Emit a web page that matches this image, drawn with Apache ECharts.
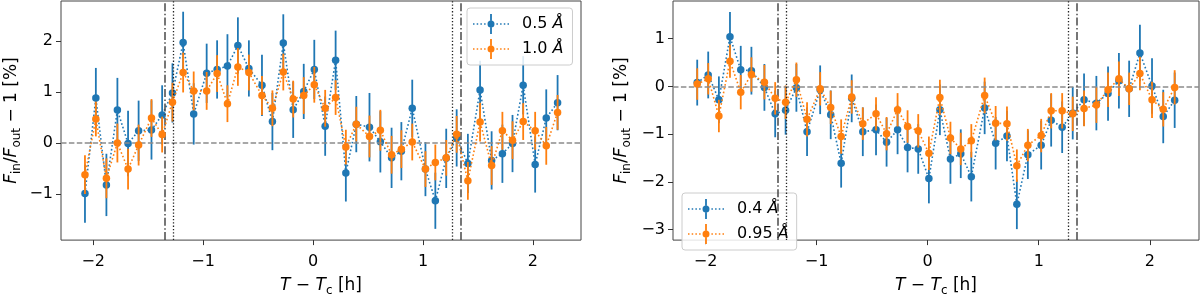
<!DOCTYPE html>
<html>
<head>
<meta charset="utf-8">
<script src="https://cdn.jsdelivr.net/npm/echarts@6.0.0/dist/echarts.min.js"></script>
<style>
html, body { margin: 0; padding: 0; background: #fff; }
#chart { width: 1200px; height: 302px; }
</style>
</head>
<body>
<div id="chart"></div>
<script>
// ---- Data ----
const times = [-2.075, -1.976, -1.880, -1.780, -1.683, -1.587, -1.470, -1.373, -1.279, -1.182, -1.086,
  -0.968, -0.873, -0.779, -0.684, -0.584, -0.465, -0.370, -0.271, -0.181, -0.085, 0.011, 0.110,
  0.205, 0.298, 0.393, 0.513, 0.612, 0.714, 0.803, 0.902, 1.022, 1.112, 1.211, 1.306, 1.408,
  1.519, 1.624, 1.722, 1.814, 1.911, 2.020, 2.121, 2.224];

// Left panel: 0.5 Å (blue) and 1.0 Å (orange)
const leftBlueVals = [-0.99, 0.88, -0.82, 0.645, -0.01, 0.24, 0.256, 0.55, 0.98, 1.97, 0.57,
  1.365, 1.44, 1.51, 1.91, 1.46, 1.13, 0.42, 1.96, 0.65, 1.01, 1.44, 0.33,
  1.62, -0.585, 0.37, 0.31, 0.024, -0.29, -0.16, 0.68, -0.51, -1.13, -0.30, 0.10, -0.40,
  1.04, -0.34, -0.21, -0.01, 1.13, -0.42, 0.49, 0.79];
const leftBlueErrs = [0.57, 0.59, 0.61, 0.63, 0.64, 0.59, 0.58, 0.58, 0.58, 0.60, 0.60,
  0.58, 0.57, 0.62, 0.55, 0.55, 0.60, 0.56, 0.56, 0.55, 0.54, 0.58, 0.58,
  0.58, 0.56, 0.55, 0.67, 0.60, 0.59, 0.57, 0.56, 0.53, 0.55, 0.58, 0.56, 0.58,
  0.57, 0.57, 0.57, 0.56, 0.57, 0.55, 0.56, 0.54];
const leftOrangeVals = [-0.62, 0.47, -0.69, 0.0, -0.51, -0.04, 0.49, 0.165, 0.80, 1.38, 1.02,
  1.02, 1.36, 0.77, 1.49, 1.38, 0.93, 0.68, 1.39, 0.86, 0.93, 1.14, 0.68,
  0.89, -0.08, 0.37, 0.128, 0.25, -0.23, -0.12, 0.02, -0.51, -0.38, -0.29, 0.17, -0.74,
  0.41, -0.44, 0.24, 0.055, 0.42, 0.24, -0.055, 0.60];
const leftOrangeErrs = [0.38, 0.34, 0.39, 0.38, 0.40, 0.40, 0.37, 0.35, 0.38, 0.39, 0.38,
  0.37, 0.36, 0.36, 0.37, 0.35, 0.38, 0.35, 0.36, 0.36, 0.36, 0.35, 0.36,
  0.34, 0.34, 0.34, 0.41, 0.40, 0.37, 0.37, 0.36, 0.35, 0.35, 0.35, 0.36, 0.37,
  0.38, 0.38, 0.37, 0.37, 0.36, 0.37, 0.37, 0.34];

// Right panel: 0.4 Å (blue) and 0.95 Å (orange)
const rightBlueVals = [0.08, 0.24, -0.28, 1.04, 0.35, 0.33, -0.02, -0.575, -0.50, -0.03, -0.95,
  -0.07, -0.595, -1.61, -0.25, -0.95, -0.91, -1.17, -0.91, -1.28, -1.31, -1.93, -0.49,
  -1.52, -1.41, -1.89, -0.45, -1.19, -1.04, -2.47, -1.43, -1.23, -0.71, -0.855, -0.56, -0.28,
  -0.35, -0.15, 0.12, -0.05, 0.70, 0.01, -0.63, -0.29];
const rightBlueErrs = [0.48, 0.49, 0.49, 0.52, 0.50, 0.50, 0.49, 0.49, 0.51, 0.50, 0.51,
  0.51, 0.51, 0.51, 0.50, 0.51, 0.53, 0.51, 0.51, 0.52, 0.52, 0.52, 0.53,
  0.52, 0.51, 0.52, 0.55, 0.55, 0.53, 0.52, 0.51, 0.51, 0.55, 0.54, 0.55, 0.55,
  0.57, 0.57, 0.58, 0.59, 0.59, 0.58, 0.56, 0.58];
const rightOrangeVals = [0.05, 0.16, -0.62, 0.53, -0.12, 0.25, 0.09, -0.25, -0.33, 0.14, -0.69,
  -0.05, -0.44, -1.05, -0.22, -0.78, -0.575, -0.99, -0.49, -0.84, -0.93, -1.40, -0.23,
  -1.08, -1.31, -1.14, -0.19, -0.77, -0.78, -1.66, -1.23, -1.03, -0.51, -0.51, -0.575, -0.46,
  -0.39, -0.07, 0.16, -0.05, 0.27, -0.28, -0.48, -0.02];
const rightOrangeErrs = [0.33, 0.33, 0.34, 0.35, 0.36, 0.36, 0.36, 0.34, 0.35, 0.36, 0.36,
  0.35, 0.35, 0.36, 0.35, 0.34, 0.35, 0.35, 0.35, 0.34, 0.35, 0.35, 0.37,
  0.34, 0.34, 0.35, 0.375, 0.36, 0.36, 0.34, 0.34, 0.35, 0.37, 0.37, 0.36, 0.375,
  0.375, 0.36, 0.36, 0.34, 0.35, 0.38, 0.36, 0.36];

// Legend labels
const leftNames = ['0.5 Å', '1.0 Å'];
const rightNames = ['0.4 Å', '0.95 Å'];

// Reference lines (hours)
const dashDotLines = [-1.347, 1.345];
const dottedLines = [-1.272, 1.271];

// Tick values
const xTicks = [-2, -1, 0, 1, 2];
const leftYTicks = [-1, 0, 1, 2];
const rightYTicks = [-3, -2, -1, 0, 1];

// ---- Styling ----
const BLUE = '#1f77b4';
const ORANGE = '#ff7f0e';
const FONT = 'DejaVu Sans';

const fmt = v => (v < 0 ? '\u2212' + Math.abs(v) : String(v));

function errSeries(axis, vals, errs, color, z) {
  return {
    type: 'custom', xAxisIndex: axis, yAxisIndex: axis, z: z, silent: true,
    data: times.map((t, i) => [t, vals[i], errs[i]]),
    encode: { x: 0, y: 1 },
    renderItem: function (params, api) {
      const x = api.value(0), y = api.value(1), e = api.value(2);
      const p1 = api.coord([x, y - e]);
      const p2 = api.coord([x, y + e]);
      return { type: 'line', shape: { x1: p1[0], y1: p1[1], x2: p2[0], y2: p2[1] },
        style: { stroke: color, lineWidth: 1.8 } };
    }
  };
}
function lineSeries(axis, name, vals, color, z) {
  return {
    type: 'line', name: name, xAxisIndex: axis, yAxisIndex: axis, z: z, silent: true,
    data: times.map((t, i) => [t, vals[i]]),
    symbol: 'circle', symbolSize: 7.5, showSymbol: true,
    itemStyle: { color: color, borderWidth: 0 },
    lineStyle: { color: color, width: 1.6, type: [1.6, 2.3] }
  };
}
function refSeries(axis) {
  const data = [
    { yAxis: 0, lineStyle: { color: '#8c8c8c', width: 1.5, type: [5.5, 2.4] } }
  ];
  dashDotLines.forEach(v => data.push({ xAxis: v, lineStyle: { color: '#4a4a4a', width: 1.5, type: [8, 2.4, 1.5, 2.4] } }));
  dottedLines.forEach(v => data.push({ xAxis: v, lineStyle: { color: '#222', width: 1.3, type: [1.3, 2] } }));
  return {
    type: 'line', xAxisIndex: axis, yAxisIndex: axis, z: 1, silent: true, data: [],
    markLine: { silent: true, symbol: 'none', label: { show: false }, animation: false, data: data }
  };
}

// legend icon: dotted line + error bar + circle (36 x 20 box)
const iconPath = 'path://' +
  'M0,9.25h1.5v1.5h-1.5z M3.7,9.25h1.5v1.5h-1.5z M7.4,9.25h1.5v1.5h-1.5z M11.1,9.25h1.5v1.5h-1.5z ' +
  'M23.4,9.25h1.5v1.5h-1.5z M27.1,9.25h1.5v1.5h-1.5z M30.8,9.25h1.5v1.5h-1.5z M34.5,9.25h1.5v1.5h-1.5z ' +
  'M17.1,0h1.8v6.5h-1.8z M17.1,13.5h1.8v6.5h-1.8z ' +
  'M14.5,10A3.5,3.5 0 1,1 21.5,10A3.5,3.5 0 1,1 14.5,10z';

function legendCfg(names, left, top, padRight) {
  return {
    orient: 'vertical', left: left, top: top,
    itemWidth: 36, itemHeight: 20, itemGap: 5,
    padding: [6, padRight, 6, 6],
    backgroundColor: 'rgba(255,255,255,0.85)', borderColor: '#cccccc', borderWidth: 1, borderRadius: 3,
    selectedMode: false,
    itemStyle: { borderWidth: 0 },
    data: names.map(n => ({ name: n, icon: iconPath })),
    formatter: n => n.replace('Å', '{it|Å}'),
    textStyle: {
      fontFamily: FONT, fontSize: 16, color: '#000', padding: [0, 0, 0, 8],
      rich: { it: { fontFamily: FONT, fontSize: 16, fontStyle: 'italic', color: '#000' } }
    }
  };
}

const nameRich = {
  i: { fontFamily: FONT, fontSize: 17, fontStyle: 'italic', color: '#000', lineHeight: 22 },
  s: { fontFamily: FONT, fontSize: 12, color: '#000', verticalAlign: 'bottom', lineHeight: 12 }
};

function xAxisCfg(grid, min, max) {
  return {
    gridIndex: grid, type: 'value', min: min, max: max,
    axisLine: { show: false, onZero: false }, splitLine: { show: false },
    axisTick: { show: true, length: 5, customValues: xTicks, lineStyle: { color: '#333', width: 1 } },
    axisLabel: { customValues: xTicks, formatter: fmt, fontFamily: FONT, fontSize: 16, color: '#000', margin: 14 },
    name: '{i|T} \u2212 {i|T}{s|c} [h]', nameLocation: 'middle', nameGap: 33,
    nameTextStyle: { fontFamily: FONT, fontSize: 17, color: '#000', lineHeight: 22, rich: nameRich }
  };
}
function yAxisCfg(grid, min, max, ticks, gap) {
  return {
    gridIndex: grid, type: 'value', min: min, max: max,
    axisLine: { show: false, onZero: false }, splitLine: { show: false },
    axisTick: { show: true, length: 5, customValues: ticks, lineStyle: { color: '#333', width: 1 } },
    axisLabel: { customValues: ticks, formatter: fmt, fontFamily: FONT, fontSize: 16, color: '#000', margin: 8 },
    name: '{i|F}{s|in}/{i|F}{s|out} \u2212 1 [%]', nameLocation: 'middle', nameRotate: 90, nameGap: gap,
    nameTextStyle: { fontFamily: FONT, fontSize: 17, color: '#000', lineHeight: 22, rich: nameRich }
  };
}

const option = {
  animation: false,
  backgroundColor: '#fff',
  grid: [
    { left: 55, top: 1, width: 526, height: 256, show: true, borderColor: '#444', borderWidth: 1, backgroundColor: 'transparent' },
    { left: 673, top: 1, width: 526, height: 256, show: true, borderColor: '#444', borderWidth: 1, backgroundColor: 'transparent' }
  ],
  xAxis: [xAxisCfg(0, -2.293, 2.437), xAxisCfg(1, -2.293, 2.443)],
  yAxis: [yAxisCfg(0, -1.90, 2.78, leftYTicks, 38), yAxisCfg(1, -3.22, 1.79, rightYTicks, 40)],
  legend: [legendCfg(leftNames, 467, 8, 9), legendCfg(rightNames, 682, 193, 8)],
  series: [
    refSeries(0),
    errSeries(0, leftBlueVals, leftBlueErrs, BLUE, 2),
    lineSeries(0, leftNames[0], leftBlueVals, BLUE, 3),
    errSeries(0, leftOrangeVals, leftOrangeErrs, ORANGE, 4),
    lineSeries(0, leftNames[1], leftOrangeVals, ORANGE, 5),
    refSeries(1),
    errSeries(1, rightBlueVals, rightBlueErrs, BLUE, 2),
    lineSeries(1, rightNames[0], rightBlueVals, BLUE, 3),
    errSeries(1, rightOrangeVals, rightOrangeErrs, ORANGE, 4),
    lineSeries(1, rightNames[1], rightOrangeVals, ORANGE, 5)
  ]
};

const chart = echarts.init(document.getElementById('chart'), null, { renderer: 'canvas' });
chart.setOption(option);
</script>
</body>
</html>
